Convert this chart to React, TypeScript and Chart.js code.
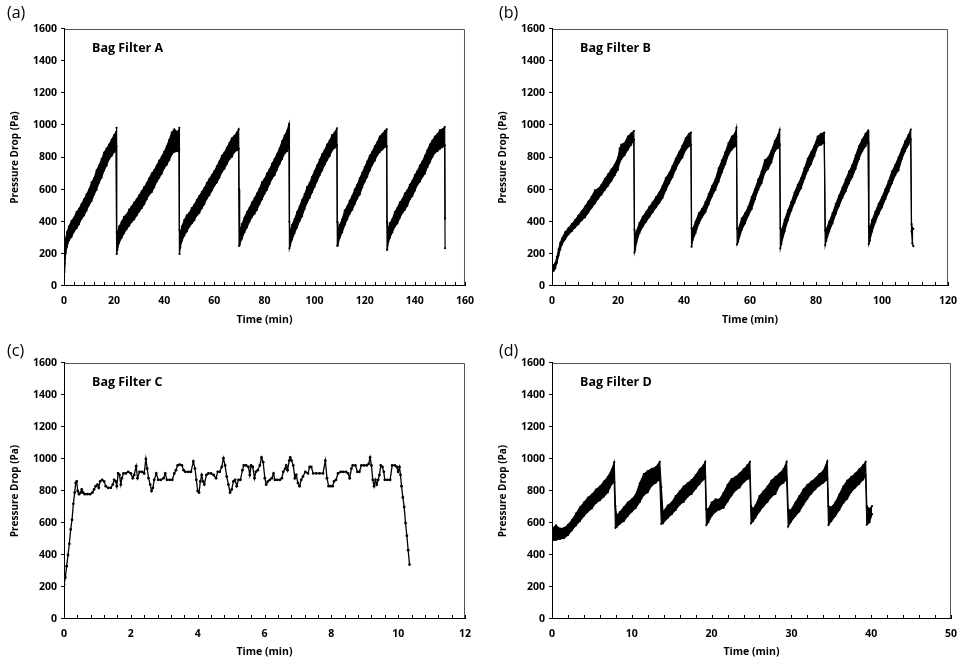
import React, { useEffect, useRef } from "react";
import { Chart, registerables } from "chart.js";

Chart.register(...registerables);

const FONT = "'Open Sans', 'Noto Sans', 'DejaVu Sans', sans-serif";

// ---- Bag filter A: time (min) with lower / upper edge of the recorded pressure-drop band (Pa)
const aTime = [
  0, 0.3, 0.7, 1.2, 2, 3, 4, 5, 6, 7, 8, 9, 10, 11, 12, 13, 14, 15, 16, 17, 18, 19, 20, 20.8, 20.95,
  21.05, 21.3, 22, 23, 24, 25, 26, 27, 28, 29, 30, 31, 32, 33, 34, 35, 36, 37, 38, 39, 40, 41, 42, 43, 44, 45, 45.9, 46.0,
  46.1, 46.4, 47, 48, 49, 50, 51, 52, 53, 54, 55, 56, 57, 58, 59, 60, 61, 62, 63, 64, 65, 66, 67, 68, 69, 69.7,
  69.85, 70.1, 71, 72, 73, 74, 75, 76, 77, 78, 79, 80, 81, 82, 83, 84, 85, 86, 87, 88, 89, 89.8,
  89.95, 90.2, 91, 92, 93, 94, 95, 96, 97, 98, 99, 100, 101, 102, 103, 104, 105, 106, 107, 108, 108.9,
  109.05, 109.3, 110, 111, 112, 113, 114, 115, 116, 117, 118, 119, 120, 121, 122, 123, 124, 125, 126, 127, 128, 128.75,
  128.9, 129.1, 130, 131, 132, 133, 134, 135, 136, 137, 138, 139, 140, 141, 142, 143, 144, 145, 146, 147, 148, 149, 150, 151, 151.9, 152.05,
];
const aLow = [
  85, 140, 205, 245, 285, 305, 340, 360, 385, 420, 440, 470, 505, 530, 570, 600, 645, 675, 720, 750, 790, 810, 835, 845, 870,
  200, 225, 270, 300, 330, 355, 375, 400, 415, 440, 465, 485, 510, 540, 570, 585, 615, 650, 675, 700, 735, 755, 785, 820, 835, 840, 835, 850,
  200, 240, 280, 315, 340, 370, 390, 410, 440, 455, 485, 510, 545, 565, 595, 625, 645, 675, 710, 730, 760, 790, 805, 835, 845, 855,
  250, 260, 295, 335, 365, 400, 430, 450, 475, 510, 540, 575, 600, 635, 670, 690, 725, 760, 790, 825, 840, 865,
  235, 250, 290, 330, 365, 405, 435, 480, 520, 550, 585, 620, 655, 690, 720, 755, 785, 810, 845, 860, 875,
  250, 260, 300, 335, 380, 415, 450, 475, 510, 545, 570, 615, 650, 680, 720, 755, 780, 815, 835, 850, 865, 870,
  225, 250, 300, 335, 370, 390, 425, 455, 475, 500, 540, 560, 595, 630, 650, 680, 700, 740, 770, 805, 830, 840, 855, 865, 875, 235,
];
const aHigh = [
  120, 240, 295, 335, 370, 405, 425, 460, 480, 510, 540, 570, 600, 645, 670, 720, 750, 790, 830, 855, 880, 910, 940, 960, 985,
  335, 330, 370, 400, 430, 445, 475, 495, 520, 540, 565, 590, 615, 640, 670, 700, 720, 750, 780, 805, 835, 870, 910, 955, 975, 960, 970, 985,
  345, 330, 370, 410, 440, 455, 485, 505, 535, 560, 585, 610, 640, 665, 690, 715, 745, 775, 810, 830, 860, 890, 920, 935, 955, 975,
  600, 340, 385, 425, 460, 485, 520, 545, 575, 605, 645, 665, 700, 725, 760, 790, 820, 855, 900, 935, 965, 1010,
  400, 330, 380, 415, 460, 495, 535, 570, 615, 640, 680, 715, 750, 785, 820, 845, 880, 905, 940, 955, 980,
  400, 330, 380, 415, 470, 495, 530, 560, 600, 630, 670, 705, 740, 775, 810, 835, 870, 895, 930, 945, 965, 975,
  400, 335, 390, 415, 460, 485, 520, 540, 575, 595, 630, 655, 690, 715, 750, 775, 810, 845, 880, 905, 930, 945, 970, 975, 990, 420,
];

// ---- Bag filter B
const bTime = [
  0, 0.5, 1, 1.5, 2, 2.5, 3, 4, 5, 6, 7, 8, 9, 10, 11, 12, 13, 14, 15, 16, 17, 18, 19, 20, 20.5, 21, 22, 23, 24, 24.8,
  25.0, 25.2, 25.6, 26.5, 27.5, 28.5, 29.5, 30.5, 31.5, 32.5, 33.5, 34.5, 35.5, 36.5, 37.5, 38.5, 39.5, 40.5, 41.5, 42.1,
  42.3, 42.6, 43.5, 44.5, 45.5, 46.5, 47.5, 48.5, 49.5, 50.5, 51.5, 52.5, 53.5, 54.5, 55.5, 55.9,
  56.1, 56.4, 57.5, 58.5, 59.5, 60.5, 61.5, 62.5, 63.5, 64.5, 65.5, 66.5, 67.5, 68.5, 69.0,
  69.2, 69.5, 70.5, 71.5, 72.5, 73.5, 74.5, 75.5, 76.5, 77.5, 78.5, 79.5, 80.5, 81.5, 82.5,
  82.8, 83.1, 84, 85, 86, 87, 88, 89, 90, 91, 92, 93, 94, 95, 95.8,
  96.0, 96.3, 97, 98, 99, 100, 101, 102, 103, 104, 105, 106, 107, 108, 108.7, 108.95, 109.2, 109.5,
];
const bLow = [
  85, 95, 110, 145, 190, 228, 258, 292, 322, 342, 365, 385, 410, 428, 458, 488, 515, 545, 570, 598, 625, 655, 690, 725, 770, 790, 815, 850, 880, 910,
  210, 225, 272, 330, 370, 400, 430, 460, 490, 518, 548, 598, 640, 678, 728, 770, 800, 848, 870, 880,
  245, 285, 330, 390, 430, 460, 510, 560, 600, 650, 708, 760, 820, 850, 870, 930,
  260, 275, 350, 390, 440, 480, 540, 600, 640, 708, 730, 770, 840, 860, 880,
  235, 262, 340, 410, 470, 520, 570, 610, 670, 720, 760, 810, 870, 880, 890,
  255, 282, 340, 390, 450, 500, 550, 590, 640, 680, 730, 790, 840, 870, 900,
  262, 282, 340, 400, 450, 490, 540, 590, 640, 690, 720, 790, 840, 880, 910, 340, 265, 248,
];
const bHigh = [
  115, 130, 142, 182, 228, 268, 295, 335, 360, 385, 410, 438, 465, 495, 525, 555, 595, 605, 630, 665, 695, 725, 755, 800, 855, 880, 890, 930, 950, 965,
  350, 310, 340, 392, 430, 460, 492, 520, 552, 582, 622, 672, 702, 745, 792, 832, 872, 920, 948, 955,
  360, 350, 400, 452, 480, 522, 572, 622, 662, 732, 782, 832, 890, 930, 950, 985,
  355, 350, 420, 452, 492, 552, 602, 662, 712, 782, 800, 842, 900, 940, 972,
  360, 340, 412, 470, 522, 582, 630, 672, 732, 792, 832, 872, 930, 948, 955,
  345, 350, 400, 452, 510, 562, 612, 662, 712, 752, 812, 870, 910, 948, 968,
  372, 360, 410, 462, 512, 552, 602, 652, 712, 752, 800, 850, 900, 940, 972, 385, 362, 355,
];

// ---- Bag filter C: single recorded trace
const cTime = [
  0.00, 0.04, 0.08, 0.12, 0.16, 0.20, 0.24, 0.28, 0.32, 0.35, 0.38, 0.41, 0.45, 0.50, 0.53, 0.57, 0.62, 0.70, 0.78, 0.85,
  0.90, 0.95, 1.00, 1.04, 1.08, 1.14, 1.20, 1.25, 1.32, 1.40, 1.46, 1.50, 1.55, 1.58, 1.62, 1.66, 1.70, 1.73, 1.78, 1.85,
  1.92, 2.00, 2.06, 2.10, 2.16, 2.20, 2.26, 2.34, 2.40, 2.45, 2.49, 2.53, 2.58, 2.62, 2.66, 2.70, 2.76, 2.82, 2.90, 2.98,
  3.03, 3.08, 3.16, 3.24, 3.30, 3.35, 3.40, 3.46, 3.53, 3.58, 3.63, 3.72, 3.80, 3.87, 3.92, 3.96, 4.00, 4.04, 4.08, 4.12,
  4.16, 4.20, 4.26, 4.32, 4.40, 4.48, 4.55, 4.60, 4.66, 4.72, 4.77, 4.82, 4.87, 4.92, 4.97, 5.02, 5.07, 5.12, 5.17, 5.22,
  5.28, 5.34, 5.38, 5.45, 5.52, 5.56, 5.60, 5.65, 5.70, 5.74, 5.80, 5.86, 5.91, 5.96, 6.01, 6.05, 6.10, 6.16, 6.22, 6.27,
  6.31, 6.38, 6.46, 6.52, 6.56, 6.62, 6.65, 6.69, 6.74, 6.77, 6.81, 6.86, 6.91, 6.95, 7.00, 7.05, 7.10, 7.15, 7.22, 7.30,
  7.35, 7.40, 7.46, 7.55, 7.65, 7.75, 7.82, 7.87, 7.92, 7.98, 8.04, 8.08, 8.14, 8.20, 8.28, 8.36, 8.44, 8.50, 8.55, 8.60,
  8.64, 8.72, 8.78, 8.84, 8.90, 8.98, 9.06, 9.12, 9.16, 9.20, 9.24, 9.28, 9.32, 9.36, 9.40, 9.44, 9.48, 9.53, 9.57, 9.60,
  9.68, 9.76, 9.82, 9.90, 9.96, 10.00, 10.04, 10.07, 10.10, 10.14, 10.18, 10.22, 10.26, 10.30, 10.34,
];
const cPressure = [
  215, 260, 330, 400, 470, 560, 620, 720, 790, 850, 860, 800, 780, 790, 810, 790, 780, 780, 780, 790,
  810, 830, 840, 820, 860, 870, 860, 830, 820, 820, 840, 870, 860, 830, 910, 900, 840, 880, 910, 910,
  920, 910, 880, 900, 955, 880, 920, 920, 910, 1000, 940, 880, 840, 800, 820, 870, 910, 870, 870, 880,
  910, 870, 870, 870, 910, 930, 960, 965, 960, 930, 920, 920, 920, 985, 940, 870, 800, 790, 860, 900,
  860, 840, 900, 910, 910, 900, 880, 920, 920, 950, 1005, 960, 890, 840, 790, 810, 860, 870, 830, 870,
  870, 930, 960, 960, 950, 900, 960, 950, 880, 920, 930, 960, 1010, 980, 880, 840, 860, 870, 880, 910,
  870, 870, 870, 880, 920, 940, 960, 930, 990, 1010, 990, 960, 880, 900, 850, 830, 870, 890, 920, 910,
  950, 950, 910, 910, 910, 910, 990, 880, 830, 830, 830, 860, 870, 910, 920, 920, 920, 910, 880, 940,
  960, 960, 920, 920, 960, 960, 960, 970, 1010, 960, 870, 830, 870, 840, 870, 900, 960, 950, 920, 870,
  870, 870, 960, 960, 950, 920, 950, 900, 830, 760, 700, 600, 520, 430, 340,
];

// ---- Bag filter D
const dTime = [
  0, 0.5, 1, 1.5, 2, 2.5, 3, 3.5, 4, 4.5, 5, 5.5, 6, 6.5, 7, 7.5, 7.8,
  7.95, 8.1, 8.5, 9, 9.5, 10, 10.5, 11, 11.5, 12, 12.5, 13, 13.5,
  13.7, 13.9, 14.5, 15, 15.5, 16, 16.5, 17, 17.5, 18, 18.5, 19, 19.2,
  19.35, 19.6, 20, 20.5, 21, 21.5, 22, 22.5, 23, 23.5, 24, 24.5, 24.8,
  24.95, 25.2, 25.5, 26, 26.5, 27, 27.5, 28, 28.5, 29, 29.4,
  29.6, 29.9, 30.5, 31, 31.5, 32, 32.5, 33, 33.5, 34, 34.5,
  34.65, 35, 35.5, 36, 36.5, 37, 37.5, 38, 38.5, 39, 39.3, 39.45, 39.8, 40.1,
];
const dLow = [
  490, 495, 500, 505, 525, 555, 585, 612, 645, 672, 692, 725, 742, 765, 792, 845, 855,
  570, 575, 595, 612, 645, 672, 695, 732, 775, 792, 835, 852, 875,
  595, 598, 632, 655, 682, 715, 732, 765, 782, 815, 845, 872, 885,
  588, 605, 645, 672, 685, 695, 735, 772, 805, 822, 855, 875, 878,
  598, 612, 635, 672, 705, 732, 765, 782, 835, 852, 875,
  578, 605, 645, 672, 715, 752, 785, 812, 835, 852, 875,
  588, 612, 645, 682, 725, 752, 795, 822, 845, 872, 895, 590, 605, 655,
];
const dHigh = [
  565, 585, 565, 568, 588, 618, 658, 698, 728, 758, 778, 808, 828, 858, 888, 935, 980,
  705, 648, 668, 698, 728, 748, 778, 848, 905, 925, 938, 948, 982,
  825, 668, 708, 728, 768, 798, 828, 848, 868, 898, 935, 962, 982,
  685, 688, 728, 748, 748, 788, 838, 875, 888, 908, 935, 962, 982,
  705, 688, 708, 768, 798, 828, 865, 888, 908, 935, 982,
  685, 678, 728, 768, 808, 838, 858, 878, 905, 925, 985,
  705, 698, 728, 778, 828, 865, 888, 908, 935, 962, 982, 705, 688, 705,
];

const yTicksMax = 1600;
const yTicksStep = 200;

type PanelSpec = {
  tag: string;
  label: string;
  box: [number, number, number, number]; // canvas left, top, width, height on the page
  plot: [number, number, number, number]; // plot area left, top, right, bottom on the page
  xMax: number;
  xMinor: number;
  xMajor: number;
  datasets: any[];
};

const pts = (xs: number[], ys: number[]) => xs.map((x, i) => ({ x, y: ys[i] }));

// Noisy record drawn as its envelope: upper edge, then lower edge filled up to it
const band = (t: number[], lo: number[], hi: number[]) => [
  {
    data: pts(t, hi), borderColor: "#000", borderWidth: 1.2, pointRadius: 1.1,
    pointBackgroundColor: "#000", pointBorderWidth: 0, fill: false, tension: 0,
  },
  {
    data: pts(t, lo), borderColor: "#000", borderWidth: 1.2, pointRadius: 1.1,
    pointBackgroundColor: "#000", pointBorderWidth: 0, fill: "-1", backgroundColor: "#000", tension: 0,
  },
];

const panels: PanelSpec[] = [
  { tag: "(a)", label: "Bag Filter A", box: [0, 0, 483, 331], plot: [64, 29, 465, 286], xMax: 160, xMinor: 4, xMajor: 20, datasets: band(aTime, aLow, aHigh) },
  { tag: "(b)", label: "Bag Filter B", box: [488, 0, 478, 331], plot: [552, 29, 952, 286], xMax: 120, xMinor: 4, xMajor: 20, datasets: band(bTime, bLow, bHigh) },
  {
    tag: "(c)", label: "Bag Filter C", box: [0, 331, 483, 332], plot: [64, 363, 465, 619], xMax: 12, xMinor: 0.4, xMajor: 2,
    datasets: [{
      data: pts(cTime, cPressure), borderColor: "#000", borderWidth: 1.3, pointRadius: 1.4,
      pointBackgroundColor: "#000", pointBorderWidth: 0, fill: false, tension: 0,
    }],
  },
  { tag: "(d)", label: "Bag Filter D", box: [488, 331, 478, 332], plot: [552, 363, 952, 619], xMax: 50, xMinor: 2, xMajor: 10, datasets: band(dTime, dLow, dHigh) },
];

// Frame, tick marks and the in-plot filter name
const panelDecor = {
  id: "panelDecor",
  afterDraw(chart: any, _args: any, opts: any) {
    const { ctx, chartArea } = chart;
    const { left, top, right, bottom } = chartArea;
    const xs = chart.scales.x;
    const ys = chart.scales.y;
    ctx.save();
    ctx.lineWidth = 1;
    ctx.strokeStyle = "#555";
    ctx.beginPath();
    ctx.moveTo(left, top + 0.5);
    ctx.lineTo(right - 0.5, top + 0.5);
    ctx.lineTo(right - 0.5, bottom);
    ctx.stroke();
    ctx.strokeStyle = "#000";
    ctx.beginPath();
    ctx.moveTo(left + 0.5, top);
    ctx.lineTo(left + 0.5, bottom - 0.5);
    ctx.lineTo(right, bottom - 0.5);
    xs.ticks.forEach((t: any) => {
      const px = Math.round(xs.getPixelForValue(t.value)) + 0.5;
      ctx.moveTo(px, bottom);
      ctx.lineTo(px, bottom - 4);
    });
    ys.ticks.forEach((t: any) => {
      const py = Math.round(ys.getPixelForValue(t.value)) - 0.5;
      ctx.moveTo(left - 3, py);
      ctx.lineTo(left + 1, py);
    });
    ctx.stroke();
    ctx.fillStyle = "#000";
    ctx.font = `bold 12.5px ${FONT}`;
    ctx.textBaseline = "middle";
    ctx.textAlign = "left";
    ctx.fillText(opts.label, left + 28, top + 19);
    ctx.restore();
  },
};

function Panel({ spec }: { spec: PanelSpec }) {
  const ref = useRef<HTMLCanvasElement | null>(null);
  const [bx, by, bw, bh] = spec.box;
  const [pl, pt, pr, pb] = spec.plot;

  useEffect(() => {
    if (!ref.current) return;
    const isMajor = (v: number) => Math.abs(v / spec.xMajor - Math.round(v / spec.xMajor)) < 1e-6;
    const chart = new Chart(ref.current, {
      type: "line",
      data: { datasets: spec.datasets },
      plugins: [panelDecor],
      options: {
        responsive: false,
        animation: false,
        events: [],
        layout: { padding: { left: 0, top: pt - by, right: bx + bw - pr, bottom: 0 } },
        plugins: {
          legend: { display: false },
          tooltip: { enabled: false },
          panelDecor: { label: spec.label },
        } as any,
        scales: {
          x: {
            type: "linear",
            min: 0,
            max: spec.xMax,
            grid: { display: false, drawTicks: false },
            border: { display: false },
            ticks: {
              stepSize: spec.xMinor,
              autoSkip: false,
              maxRotation: 0,
              padding: 9,
              color: "#000",
              font: { family: FONT, size: 10.5, weight: "bold" },
              callback: (v: any) => (isMajor(Number(v)) ? String(Math.round(Number(v))) : ""),
            },
            title: {
              display: true,
              text: "Time (min)",
              color: "#000",
              font: { family: FONT, size: 10.5, weight: "bold" },
              padding: { top: 0, bottom: 5 },
            },
            afterFit: (s: any) => { s.height = by + bh - pb; },
          },
          y: {
            type: "linear",
            min: 0,
            max: yTicksMax,
            grid: { display: false, drawTicks: false },
            border: { display: false },
            ticks: {
              stepSize: yTicksStep,
              padding: 7,
              color: "#000",
              font: { family: FONT, size: 10.5, weight: "bold" },
              callback: (v: any) => String(v),
            },
            title: {
              display: true,
              text: "Pressure Drop (Pa)",
              color: "#000",
              font: { family: FONT, size: 10, weight: "bold" },
              padding: { top: 9, bottom: 0 },
            },
            afterFit: (s: any) => { s.width = pl - bx; },
          },
        },
      } as any,
    });
    return () => chart.destroy();
  }, []);

  return (
    <div style={{ position: "absolute", left: bx, top: by, width: bw, height: bh }}>
      <canvas ref={ref} width={bw} height={bh} style={{ width: bw, height: bh, display: "block" }} />
    </div>
  );
}

export default function App() {
  const tagPos: [number, number][] = [[7, 3], [499, 3], [7, 341], [499, 341]];
  return (
    <div style={{ position: "absolute", left: 0, top: 0, width: 966, height: 663, background: "#fff", overflow: "hidden" }}>
      {panels.map((p, i) => (
        <React.Fragment key={p.tag}>
          <Panel spec={p} />
          <div
            style={{
              position: "absolute", left: tagPos[i][0], top: tagPos[i][1],
              fontFamily: FONT, fontSize: 16, lineHeight: "18px", color: "#000",
            }}
          >
            {p.tag}
          </div>
        </React.Fragment>
      ))}
    </div>
  );
}
